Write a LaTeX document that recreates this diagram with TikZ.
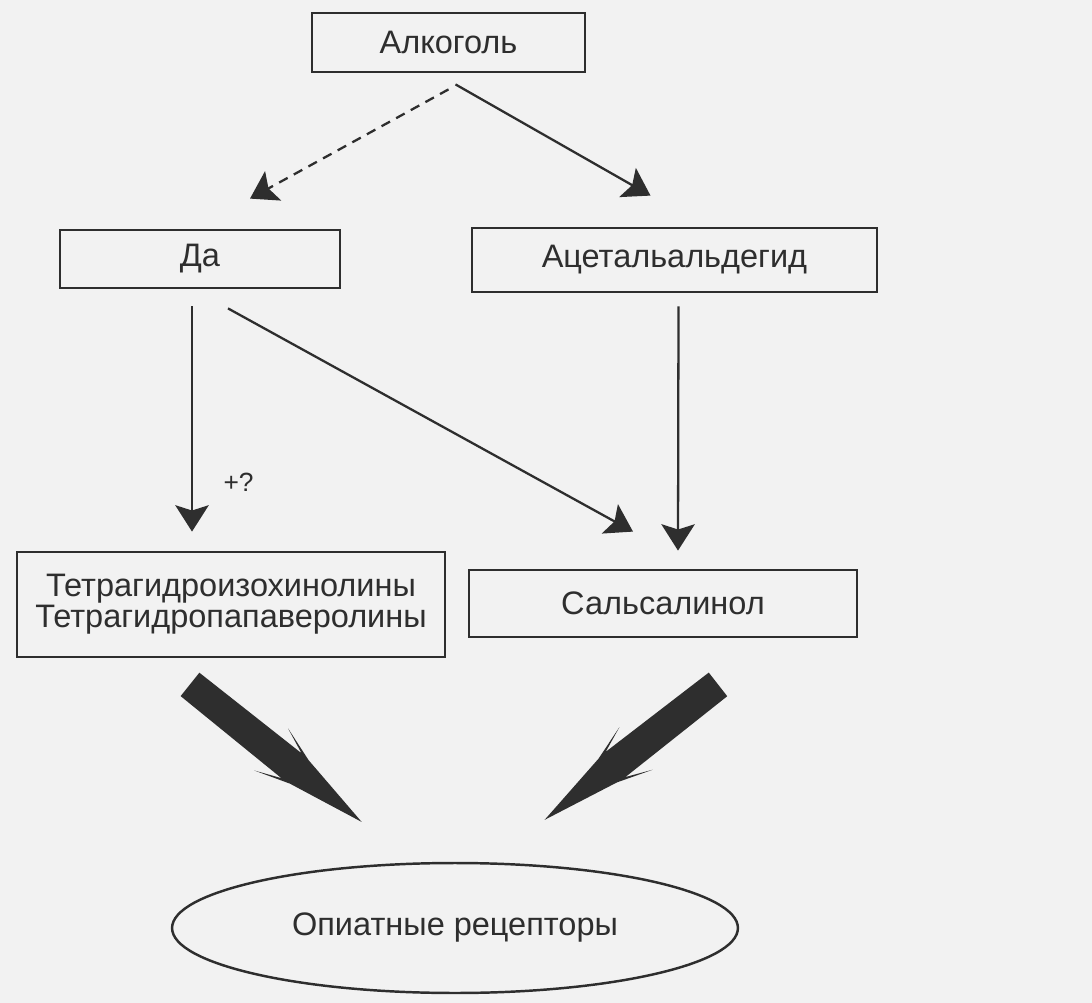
\documentclass[tikz,border=0pt]{standalone}
\usepackage{fontspec}
\setmainfont{Liberation Sans}
\usetikzlibrary{shapes.geometric,arrows.meta,calc}
\definecolor{encre}{HTML}{2E2E2E}
\definecolor{papier}{HTML}{F2F2F2}
\tikzset{
  boite/.style={draw=encre, line width=1.6pt, text=encre, inner sep=0pt,
    font=\fontsize{18.5}{16}\selectfont, align=center},
  fleche/.style={encre, line width=1.3pt, -{Stealth[length=15pt,width=19pt,inset=3pt]}},
  grossefleche/.pic={\fill[encre] (0,15) -- (130,16) -- (104,27) -- (140,15) -- (220,0)
      -- (140,-15) -- (104,-27) -- (130,-16) -- (0,-15) -- cycle;}
}
\begin{document}
\begin{tikzpicture}  % ------ Алкоголь и опиатные рецепторы --------------
      [x={(0.02cm,0cm)},y={(0cm,-0.02cm)}]

    \fill[papier] (0,0) rectangle (1092,1003);
    \useasboundingbox (0,0) rectangle (1092,1003);

    \node[boite, minimum width=5.46cm, minimum height=1.18cm] (alc) at (448.5,42.5) {Алкоголь};
    \node[boite, minimum width=5.6cm, minimum height=1.16cm] (da) at (200,259) {Да};
    \node[boite, minimum width=8.1cm, minimum height=1.28cm] (acet) at (674.5,260) {Ацетальальдегид};
    \node[boite, minimum width=8.56cm, minimum height=2.1cm] (thiq) at (231,604.5)
         {Тетрагидроизохинолины\\Тетрагидропапаверолины};
    \node[boite, minimum width=7.76cm, minimum height=1.34cm] (sal) at (663,603.5) {Сальсалинол};
    \node[boite, ellipse, line width=1.4pt, minimum width=11.32cm, minimum height=2.6cm]
         (opi) at (455,928) {Опиатные рецепторы};

    \draw[fleche, dash pattern=on 5.5pt off 4pt] ($(alc.south)+(0,16)$) -- ($(da.north)+(50,-30)$);
    \draw[fleche] ($(alc.south)+(7,11)$) -- ($(acet.north)+(-24,-31)$);
    \draw[fleche] ($(da.south)+(-8,17)$) -- ($(thiq.north)+(-39,-19)$)
          node[pos=0.78, right=14pt, text=encre, font=\fontsize{15}{15}\selectfont] (plus) {+?};
    \draw[fleche] ($(da.south)+(28,19)$) -- ($(sal.north)+(-30,-37)$);
    \draw[fleche] ($(acet.south)+(4,13)$) -- ($(sal.north)+(15,-18)$);

    \pic[rotate=-38.7] at ($(thiq.south)+(-41,26)$) {grossefleche};
    \pic[rotate=-142] at ($(sal.south)+(55,46)$) {grossefleche};
\end{tikzpicture}
\end{document}
